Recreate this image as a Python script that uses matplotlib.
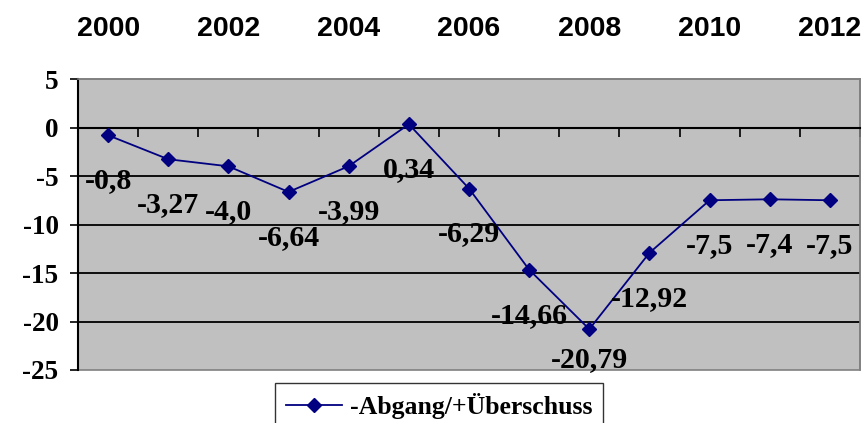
import matplotlib
matplotlib.use("Agg")
import matplotlib.pyplot as plt
from matplotlib.patches import Rectangle
import numpy as np

years = [2000, 2001, 2002, 2003, 2004, 2005, 2006, 2007, 2008, 2009, 2010, 2011, 2012]
values = [-0.8, -3.27, -4.0, -6.64, -3.99, 0.34, -6.29, -14.66, -20.79, -12.92, -7.5, -7.4, -7.5]
value_labels = ["-0,8", "-3,27", "-4,0", "-6,64", "-3,99", "0,34", "-6,29",
                "-14,66", "-20,79", "-12,92", "-7,5", "-7,4", "-7,5"]
year_labels = ["2000", "2002", "2004", "2006", "2008", "2010", "2012"]
y_ticks = [-25, -20, -15, -10, -5, 0, 5]
series_name = "-Abgang/+Überschuss"

SERIF = ["Liberation Serif", "DejaVu Serif"]
SANS = ["Liberation Sans", "DejaVu Sans"]
NAVY = "#000080"

fig = plt.figure(figsize=(8.65, 4.23), dpi=100)
ax = fig.add_axes([0.0902, 0.1253, 0.9040, 0.6879])
ax.set_facecolor("#c0c0c0")

x = np.arange(len(years))
ax.set_xlim(-0.5, len(years) - 0.5)
ax.set_ylim(y_ticks[0], y_ticks[-1])

# gridlines
for yt in y_ticks[1:-1]:
    if yt != 0:
        ax.axhline(yt, color="black", lw=1.3, zorder=1)

line, = ax.plot(x, values, color=NAVY, lw=1.3, marker="D", ms=7.5,
                mfc=NAVY, mec=NAVY, zorder=3, label=series_name)

# spines
for s in ["top", "right"]:
    ax.spines[s].set_color("#808080")
    ax.spines[s].set_linewidth(1.2)
ax.spines["left"].set_color("black")
ax.spines["left"].set_linewidth(1.5)
ax.spines["bottom"].set_position(("data", 0))
ax.spines["bottom"].set_color("black")
ax.spines["bottom"].set_linewidth(1.5)
ax.add_patch(Rectangle((0, 0), 1, 1, transform=ax.transAxes, fill=False,
                       edgecolor="#808080", lw=1.2, clip_on=False, zorder=0.5))

# x ticks at category boundaries on the zero line
ax.set_xticks(np.arange(-0.5, len(years), 1.0))
ax.set_xticklabels([])
ax.tick_params(axis="x", direction="out", length=6.5, width=1.2, color="black",
               bottom=True, top=False)

# y ticks
ax.set_yticks(y_ticks)
ax.set_yticklabels([str(v) for v in y_ticks], fontfamily=SERIF,
                   fontweight="bold", fontsize=19.5)
ax.tick_params(axis="y", direction="out", length=6, width=1.2, pad=8)

# year labels on top
for lab in year_labels:
    xi = years.index(int(lab))
    ax.annotate(lab, xy=(xi, 1), xycoords=("data", "axes fraction"),
                xytext=(0, 36), textcoords="offset points", ha="center",
                va="center", fontfamily=SANS, fontweight="bold", fontsize=20.5)

# data labels below points, clamped inside plot area
fig.canvas.draw()
px_to_pt = 72.0 / fig.dpi
ax_bottom_px = ax.transAxes.transform((0, 0))[1]
for xi, v, lab in zip(x, values, value_labels):
    py = ax.transData.transform((xi, v))[1]
    base = max(py - 53, ax_bottom_px + 3)
    off = (base - py) * px_to_pt
    ax.annotate(lab, xy=(xi, v), xycoords="data", xytext=(0, off),
                textcoords="offset points", ha="center", va="baseline",
                fontfamily=SERIF, fontweight="bold", fontsize=21.5, zorder=4)

leg = fig.legend(handles=[line], labels=[series_name], loc="upper center",
                 bbox_to_anchor=(439 / 865, 1 - 383 / 423), frameon=True,
                 fancybox=False, edgecolor="black", facecolor="white",
                 prop={"family": SERIF, "weight": "bold", "size": 18.5},
                 handlelength=2.2, handletextpad=0.3, borderpad=0.4,
                 borderaxespad=0)
leg.get_frame().set_linewidth(1.0)

fig.savefig("out.png", dpi=100)
